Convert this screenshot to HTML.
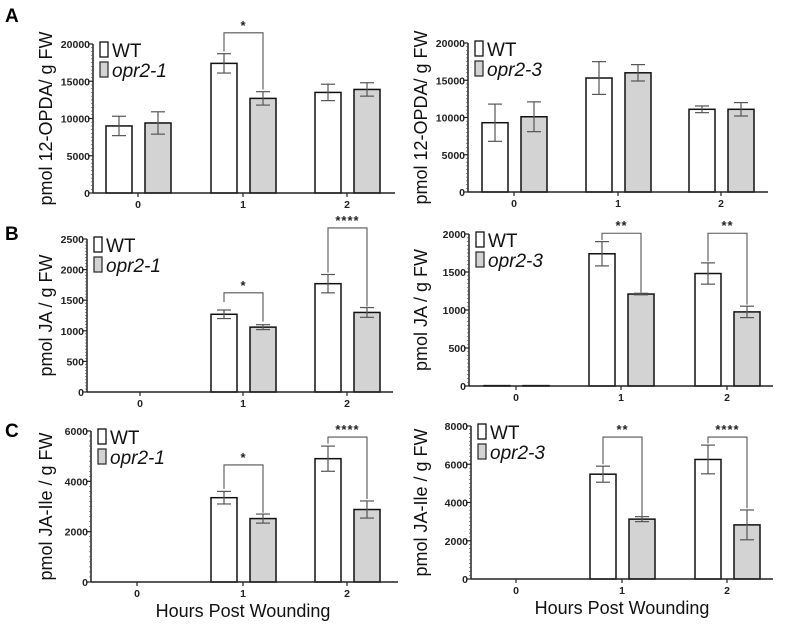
<!DOCTYPE html>
<html><head><meta charset="utf-8"><style>
body{margin:0;background:#fff;}
svg text{font-family:"Liberation Sans",Arial,sans-serif;}
</style></head><body>
<svg id="fig" width="785" height="628" xmlns="http://www.w3.org/2000/svg">
<text x="5" y="22" font-size="19" font-weight="bold">A</text>
<text x="5" y="240" font-size="19" font-weight="bold">B</text>
<text x="5" y="437" font-size="19" font-weight="bold">C</text>
</svg>
<script>
const categories = ["0","1","2"];
// A-left
const aL_wt = [9000,17400,13500], aL_wtErr=[1300,1300,1100];
const aL_mu = [9400,12700,13900], aL_muErr=[1500,900,900];
// A-right
const aR_wt = [9300,15300,11100], aR_wtErr=[2500,2200,450];
const aR_mu = [10100,16000,11100], aR_muErr=[2000,1100,900];
// B-left
const bL_wt = [0,1270,1770], bL_wtErr=[0,70,150];
const bL_mu = [0,1060,1300], bL_muErr=[0,40,80];
// B-right
const bR_wt = [5,1740,1480], bR_wtErr=[0,160,140];
const bR_mu = [5,1210,975], bR_muErr=[0,10,75];
// C-left
const cL_wt = [0,3350,4900], cL_wtErr=[0,250,500];
const cL_mu = [0,2520,2880], cL_muErr=[0,180,340];
// C-right
const cR_wt = [0,5480,6250], cR_wtErr=[0,420,750];
const cR_mu = [0,3130,2830], cR_muErr=[0,130,780];
// y ticks
const ticksA = [0,5000,10000,15000,20000];
const ticksB1 = [0,500,1000,1500,2000,2500];
const ticksB2 = [0,500,1000,1500,2000];
const ticksC1 = [0,2000,4000,6000];
const ticksC2 = [0,2000,4000,6000,8000];
// significance brackets: [group, top, leftLegEnd, rightLegEnd, label]
const sigAL = [[1,21500,19000,13900,"*"]];
const sigBL = [[1,1620,1470,1150,"*"],[2,2680,1950,1400,"****"]];
const sigBR = [[1,2010,1920,1230,"**"],[2,2010,1640,1070,"**"]];
const sigCL = [[1,4650,3700,2750,"*"],[2,5760,5500,3300,"****"]];
const sigCR = [[1,7420,6000,3300,"**"],[2,7420,7100,3700,"****"]];

const panels = [
 {id:"a-left",ax:93,x1:395,top:44,bot:193,max:20000,ticks:ticksA,c:[138,243,347],wt:aL_wt,we:aL_wtErr,mu:aL_mu,me:aL_muErr,sig:sigAL,yt:"pmol 12-OPDA/ g FW",mut:"opr2-1",ytx:52},
 {id:"a-right",ax:468,x1:768,top:43,bot:192,max:20000,ticks:ticksA,c:[514,618,721],wt:aR_wt,we:aR_wtErr,mu:aR_mu,me:aR_muErr,sig:[],yt:"pmol 12-OPDA/ g FW",mut:"opr2-3",ytx:427},
 {id:"b-left",ax:87,x1:393,top:239,bot:392,max:2500,ticks:ticksB1,c:[140,243,347],wt:bL_wt,we:bL_wtErr,mu:bL_mu,me:bL_muErr,sig:sigBL,yt:"pmol JA / g FW",mut:"opr2-1",ytx:52},
 {id:"b-right",ax:469,x1:773,top:234,bot:386,max:2000,ticks:ticksB2,c:[516,621,727],wt:bR_wt,we:bR_wtErr,mu:bR_mu,me:bR_muErr,sig:sigBR,yt:"pmol JA / g FW",mut:"opr2-3",ytx:427},
 {id:"c-left",ax:91,x1:398,top:431,bot:582,max:6000,ticks:ticksC1,c:[137,243,347],wt:cL_wt,we:cL_wtErr,mu:cL_mu,me:cL_muErr,sig:sigCL,yt:"pmol JA-Ile / g FW",mut:"opr2-1",ytx:52,xt:true},
 {id:"c-right",ax:471,x1:773,top:426,bot:579,max:8000,ticks:ticksC2,c:[516,622,727],wt:cR_wt,we:cR_wtErr,mu:cR_mu,me:cR_muErr,sig:sigCR,yt:"pmol JA-Ile / g FW",mut:"opr2-3",ytx:427,xt:true}
];
const NS="http://www.w3.org/2000/svg", svg=document.getElementById("fig");
function mk(tag,attrs,parent,txt){const e=document.createElementNS(NS,tag);for(const k in attrs)e.setAttribute(k,attrs[k]);if(txt!==undefined)e.textContent=txt;(parent||svg).appendChild(e);return e;}
panels.forEach(p=>{
 const g=mk("g",{});
 
 
 const y=v=>p.bot-(v/p.max)*(p.bot-p.top);
 const bw=26, off=[-19,20];
 [[p.wt,p.we,"#fff","wt"],[p.mu,p.me,"#d3d3d3","mutant"]].forEach((s,si)=>{
  s[0].forEach((v,i)=>{
   const cx=p.c[i]+off[si];
   if(v>0){
    const r=mk("rect",{x:cx-bw/2,y:y(v),width:bw,height:p.bot-y(v),fill:s[2],stroke:"#111","stroke-width":1.5},g);
    
    
   }
   const e=s[1][i];
   if(e>0){
    const eg=mk("g",{stroke:"#555","stroke-width":1.2},g);
    
    
    mk("line",{x1:cx,x2:cx,y1:y(v+e),y2:y(v-e)},eg);
    mk("line",{x1:cx-7,x2:cx+7,y1:y(v+e),y2:y(v+e)},eg);
    mk("line",{x1:cx-7,x2:cx+7,y1:y(v-e),y2:y(v-e)},eg);
   }
  });
 });
 const ya=mk("line",{x1:p.ax,x2:p.ax,y1:p.top,y2:p.bot,stroke:"#222","stroke-width":1.5},g);
 
 
 const xa=mk("line",{x1:p.ax,x2:p.x1,y1:p.bot,y2:p.bot,stroke:"#222","stroke-width":1.5},g);
 
 
 const step=p.ticks[1]-p.ticks[0];
 for(let k=0;k<(p.ticks.length-1)*10;k++){const v=k*step/10;mk("line",{x1:p.ax-2,x2:p.ax,y1:y(v),y2:y(v),stroke:"#444","stroke-width":0.6},g);}
 p.ticks.forEach(t=>{
  mk("line",{x1:p.ax-4,x2:p.ax,y1:y(t),y2:y(t),stroke:"#222","stroke-width":1.2},g);
  const tl=mk("text",{x:p.ax-3,y:y(t)+4,"font-size":10.5,"font-weight":"bold","text-anchor":"end",fill:"#222"},g,String(t));
  
  
 });
 categories.forEach((c,i)=>{
  mk("line",{x1:p.c[i],x2:p.c[i],y1:p.bot,y2:p.bot+4,stroke:"#222","stroke-width":1.2},g);
  const xl=mk("text",{x:p.c[i],y:p.bot+15,"font-size":10.5,"font-weight":"bold","text-anchor":"middle",fill:"#222"},g,c);
  
  
 });
 const cy=(p.top+p.bot)/2;
 const yt=mk("text",{x:p.ytx,y:cy,"font-size":18,"text-anchor":"middle",fill:"#111",transform:`rotate(-90 ${p.ytx} ${cy})`},g,p.yt);
 
 
 if(p.xt){
  const xt=mk("text",{x:p.c[1],y:p.bot+35,"font-size":18,"text-anchor":"middle",fill:"#111"},g,"Hours Post Wounding");
  
  
 }
 const lx=p.ax+7, ly=p.top-2;
 const l1=mk("g",{},g);
 
 
 mk("rect",{x:lx,y:ly,width:8,height:15,fill:"#fff",stroke:"#111","stroke-width":1.3},l1);
 mk("text",{x:lx+12,y:ly+15,"font-size":19,fill:"#111"},l1,"WT");
 const l2=mk("g",{},g);
 
 
 mk("rect",{x:lx,y:ly+20,width:8,height:15,fill:"#d3d3d3",stroke:"#333","stroke-width":1.3},l2);
 mk("text",{x:lx+12,y:ly+35,"font-size":19,"font-style":"italic",fill:"#111"},l2,p.mut);
 p.sig.forEach(s=>{
  const xl=p.c[s[0]]+off[0], xr=p.c[s[0]]+off[1];
  const sg=mk("g",{},g);
  
  
  mk("polyline",{points:`${xl},${y(s[2])} ${xl},${y(s[1])} ${xr},${y(s[1])} ${xr},${y(s[3])}`,fill:"none",stroke:"#555","stroke-width":1.1},sg);
  mk("text",{x:(xl+xr)/2,y:y(s[1])-3,"font-size":13,"font-weight":"bold","text-anchor":"middle",fill:"#222","letter-spacing":"1"},sg,s[4]);
 });
});
</script>
</body></html>
